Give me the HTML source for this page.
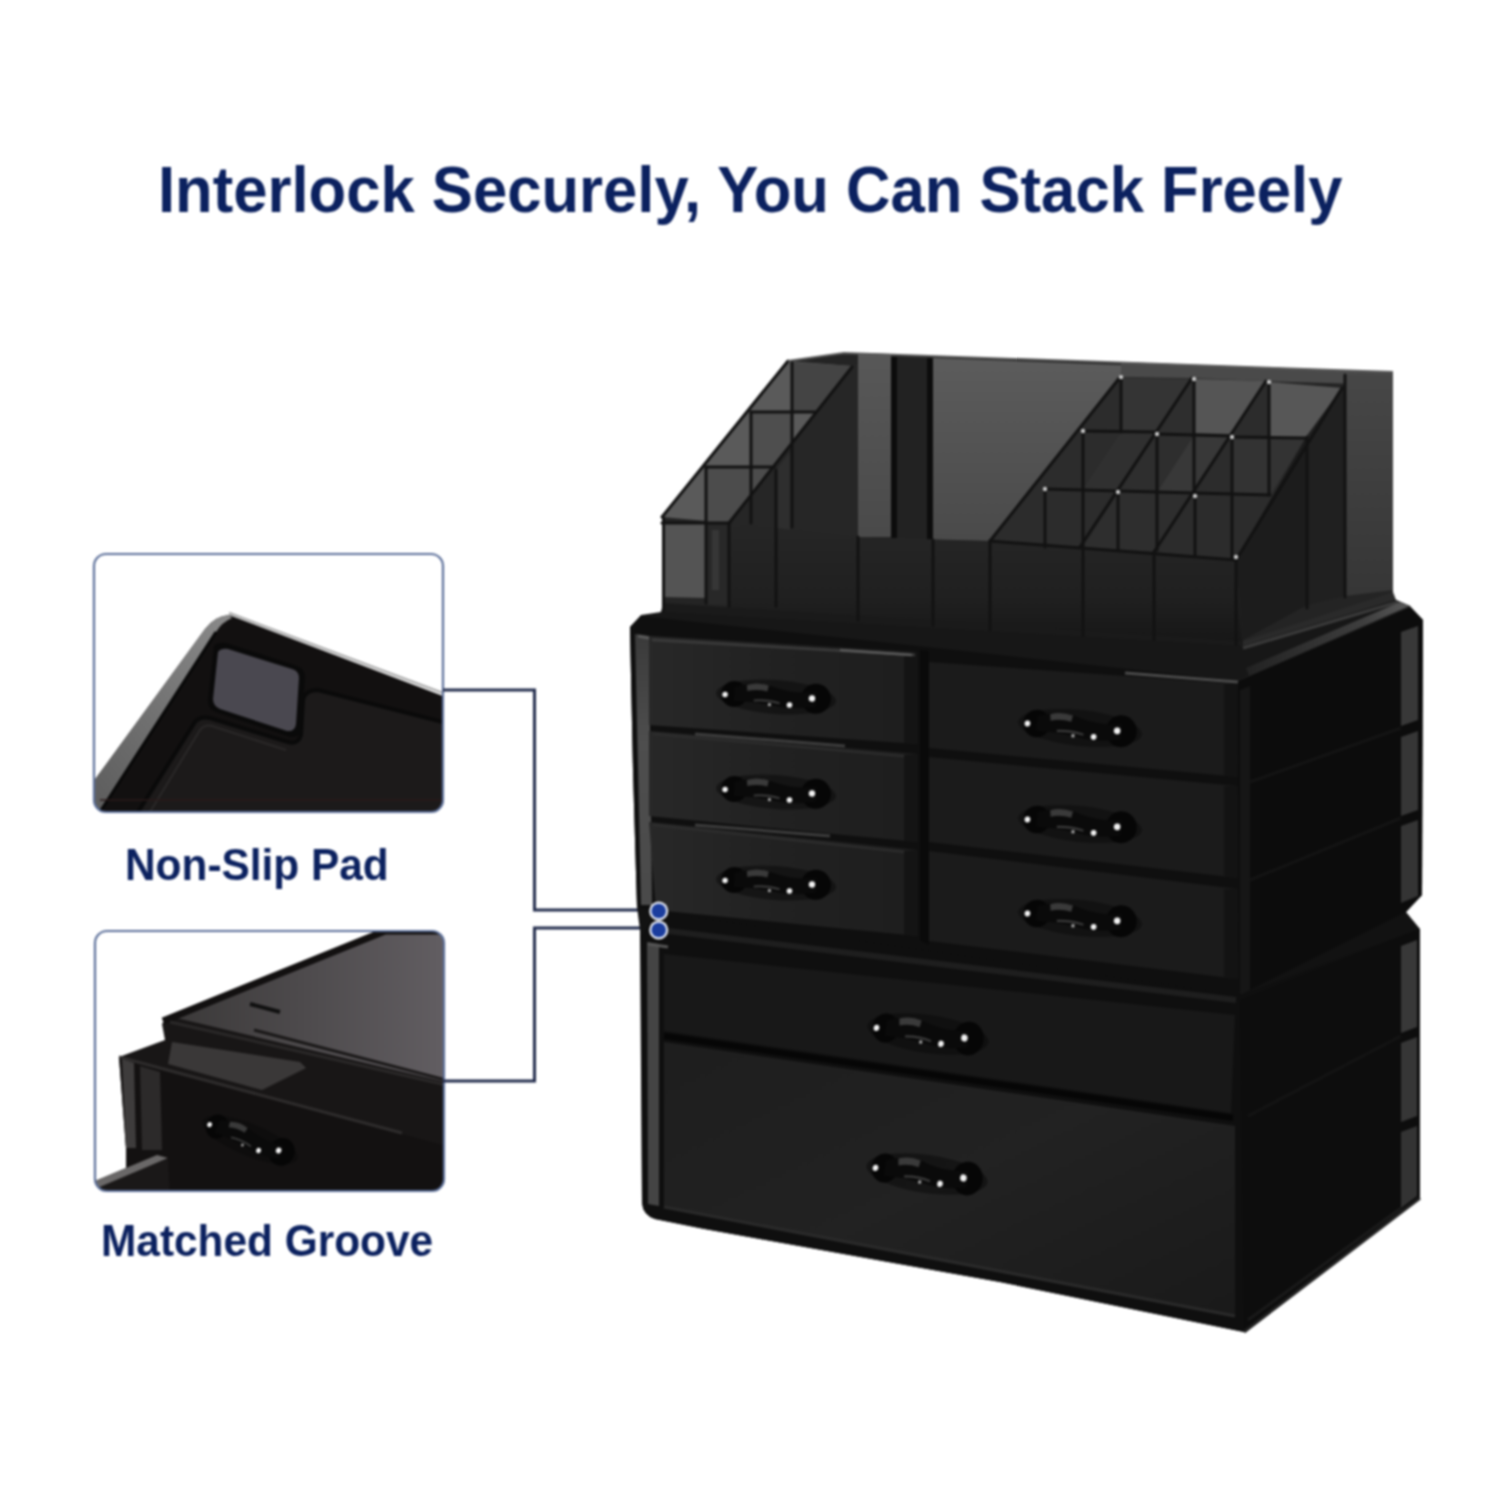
<!DOCTYPE html>
<html><head><meta charset="utf-8"><title>Interlock Securely, You Can Stack Freely</title>
<style>
html,body{margin:0;padding:0;background:#fff;}
body{width:1500px;height:1500px;position:relative;overflow:hidden;font-family:"Liberation Sans",sans-serif;}
.t{position:absolute;white-space:nowrap;font-weight:bold;color:#0b215f;line-height:1;}
#title{left:158px;top:159px;font-size:61.6px;transform:scaleY(1.045);transform-origin:0 30px;}
#lab1{left:125px;top:844px;font-size:42.4px;transform:scaleY(1.04);transform-origin:0 20px;}
#lab2{left:101px;top:1220px;font-size:42.4px;transform:scaleY(1.04);transform-origin:0 20px;}
svg{position:absolute;left:0;top:0;}
#root{position:absolute;left:0;top:0;width:1500px;height:1500px;filter:blur(1px);}
</style></head><body>
<div id="root">
<svg width="1500" height="1500" viewBox="0 0 1500 1500">
<defs>
<clipPath id="c1"><rect x="94" y="554" width="349" height="258" rx="12"/></clipPath>
<clipPath id="c2"><rect x="95" y="931" width="349" height="260" rx="12"/></clipPath>
<linearGradient id="gTop2" x1="0" y1="0" x2="1" y2="0"><stop offset="0" stop-color="#3a3838"/><stop offset="1" stop-color="#625e62"/></linearGradient>
<linearGradient id="gBev" x1="0" y1="1" x2="1" y2="0"><stop offset="0" stop-color="#5a5a5a"/><stop offset="1" stop-color="#8a8a8a"/></linearGradient>
</defs>
<g clip-path="url(#c1)">
<path d="M80,800 L205,629 Q215,616 229,615 L443,696 L443,815 L80,815 Z" fill="#121010"/>
<path d="M80,800 L205,629 Q215,616 229,615 L232,618 Q222,622 216,632 L100,812 L80,812 Z" fill="url(#gBev)"/>
<path d="M229,613 L443,693" stroke="#b0b0b0" stroke-width="2.5" fill="none"/>
<path d="M100,812 L216,632" stroke="#080808" stroke-width="3" fill="none"/>
<path d="M138,812 L195,722 Q200,716 210,718 L288,742 Q298,745 301,735 L303,700 Q305,690 318,690 L443,722 L443,812 Z" fill="#1c1a1a"/>
<path d="M138,812 L195,722 Q200,716 210,718 L288,742 Q298,745 301,735 L303,700 Q305,690 318,690 L443,722" stroke="#0a0a0a" stroke-width="4" fill="none"/>
<path d="M150,812 L200,730 Q205,724 212,726 L286,750" stroke="#2a2828" stroke-width="2" fill="none"/>
<path d="M214,646 Q218,642 226,643 L297,666 Q305,669 305,677 L301,729 Q300,738 290,737 L216,712 Q208,709 208,700 Z" fill="#0a0a0a"/>
<path d="M218,652 Q221,648 228,649 L292,669 Q299,671 299,678 L296,724 Q295,732 287,731 L220,709 Q213,706 213,699 Z" fill="#4a4850"/>
<path d="M100,800 L443,800" stroke="#2a1a1a" stroke-width="1.5"/>
</g>
<rect x="94" y="554" width="349" height="258" rx="12" fill="none" stroke="#5d709a" stroke-width="2.2"/>
<g clip-path="url(#c2)">
<path d="M168,1016 L385,933 L446,933 L446,1200 L90,1200 L90,1183 L157,1155 L126,1148 L119,1057 L165,1040 L162,1024 Z" fill="#181616"/>
<path d="M168,1016 L385,933 L446,933 L446,1082 Z" fill="url(#gTop2)"/>
<path d="M163,1021 L385,931 L446,931" stroke="#121010" stroke-width="7" fill="none"/>
<path d="M250,1004 L280,1012" stroke="#101010" stroke-width="4"/>
<path d="M254,1030 L446,1080" stroke="#1a1818" stroke-width="3"/>
<path d="M172,1042 L300,1062 L306,1068 L262,1090 L168,1064 Z" fill="#3a3838"/>
<path d="M170,1022 L446,1085" stroke="#2a2828" stroke-width="3"/>
<path d="M119,1057 L402,1134 L446,1146 L446,1200 L126,1200 L126,1148 Z" fill="#131111"/>
<path d="M119,1057 L402,1133" stroke="#2e2c2c" stroke-width="3"/>
<path d="M122,1059 L134,1063 L136,1148 L126,1148 Z" fill="#3e3c3c"/>
<path d="M140,1066 L160,1072 L162,1150 L142,1150 Z" fill="#2c2a2a"/>
<path d="M90,1183 L157,1155 L168,1158 L100,1190 Z" fill="#6a6868"/>
<path d="M90,1191 L168,1158 L170,1200 L90,1200 Z" fill="#1a1818"/>
</g>
<g transform="translate(250,1140) rotate(22) scale(0.847,0.938)"><ellipse cx="0" cy="0" rx="60" ry="17" fill="#0b0b0b" opacity="0.55"/><circle cx="-42" cy="0" r="13" fill="#060606"/><circle cx="40" cy="-1" r="15" fill="#060606"/><path d="M-42,-7 Q-20,-16 0,-9 Q20,-4 40,-8 L40,7 Q18,12 0,9 Q-20,6 -42,7 Z" fill="#0a0a0a"/><path d="M-30,-10 Q-20,-14 -8,-11 L-9,-5 Q-20,-7 -29,-4 Z" fill="#5a5a5a" opacity="0.6"/><path d="M-22,5 Q-8,3 4,6" stroke="#3a3a3a" stroke-width="2" fill="none"/><circle cx="-51" cy="1" r="2.8" fill="#f2f2f2"/><circle cx="14" cy="7" r="2.8" fill="#f2f2f2"/><circle cx="36" cy="-1" r="3.2" fill="#f2f2f2"/><circle cx="-6" cy="8" r="1.6" fill="#aaa"/></g>
<rect x="95" y="931" width="349" height="260" rx="12" fill="none" stroke="#5d709a" stroke-width="2.2"/>
<path d="M443,690 L534.5,690 L534.5,910 L652,910" stroke="#222c4c" stroke-width="3" fill="none"/>
<path d="M443,1081 L534.5,1081 L534.5,928 L652,928" stroke="#222c4c" stroke-width="3" fill="none"/>
<defs>
<linearGradient id="gLow" x1="0" y1="0" x2="0" y2="1"><stop offset="0" stop-color="#262626"/><stop offset="0.6" stop-color="#202020"/><stop offset="1" stop-color="#161616"/></linearGradient><linearGradient id="gBev2" x1="0" y1="0" x2="1" y2="0"><stop offset="0" stop-color="#222"/><stop offset="0.7" stop-color="#3e3e3e"/><stop offset="1" stop-color="#5a5a5a"/></linearGradient>
<linearGradient id="gBig" x1="0" y1="0" x2="0" y2="1"><stop offset="0" stop-color="#5c5c5c"/><stop offset="1" stop-color="#4a4a4a"/></linearGradient><linearGradient id="gStrip" x1="0" y1="0" x2="0" y2="1"><stop offset="0" stop-color="#585858"/><stop offset="1" stop-color="#4a4a4a"/></linearGradient>
<linearGradient id="gD2" x1="0" y1="0" x2="1" y2="1"><stop offset="0" stop-color="#1e1e1e"/><stop offset="0.5" stop-color="#222"/><stop offset="1" stop-color="#1a1a1a"/></linearGradient>
<linearGradient id="gEnd" x1="0" y1="0" x2="0" y2="1"><stop offset="0" stop-color="#474747"/><stop offset="1" stop-color="#363636"/></linearGradient>
<linearGradient id="gLS" x1="0" y1="0" x2="0" y2="1"><stop offset="0" stop-color="#3a3a3a"/><stop offset="0.4" stop-color="#4e4e4e"/><stop offset="1" stop-color="#4a4a4a"/></linearGradient>
<linearGradient id="gLD" x1="0" y1="0" x2="1" y2="0"><stop offset="0" stop-color="#282828"/><stop offset="0.5" stop-color="#212121"/><stop offset="1" stop-color="#1e1e1e"/></linearGradient>
</defs>
<path d="M662,517 L788,361 L844,353 L1393,372 L1393,596 L1396,600 L1410,606 L1423,620 L1422,895 L1406,912 L1420,929 L1420,1198 L1244,1332 L1000,1282 L880,1260.5 L702,1228.5 L655,1219 Q643,1215 642,1203 L640,937 L640,930 L637,907 L633,770 L630,627 L641,615 L658,616 L662,610 Z" fill="#121212"/>
<path d="M662,517 L788,361 L844,353 L1393,372 L1393,596 L1243,646 L662,612 Z" fill="#242424"/>
<path d="M662,517 L788,361 L852,366 L729,523 Z" fill="#5a5a5a"/>
<path d="M792,362 L852,366 L815,412 L792,412 Z" fill="#444"/>
<path d="M751,412 L792,412 L792,467 L774,467 L751,467 Z" fill="#4e4e4e"/>
<path d="M706,467 L774,467 L729,523 L706,523 Z" fill="#4c4c4c"/>
<path d="M729,523 L852,366 L858,364 L858,537 Z" fill="#262626"/>
<path d="M776,470 L790,452 L790,530 L776,528 Z" fill="#2e2e2e"/>
<path d="M663,523 L706,523 L706,598 L663,597 Z" fill="#545454"/>
<path d="M666,606 L684,607 L684,612 L666,611 Z" fill="#4a4a4a"/>
<path d="M706,523 L729,523 L729,605 L706,604 Z" fill="#282828"/>
<path d="M712,530 L719,530 L719,590 L712,590 Z" fill="#363636"/>
<path d="M858,353 L891,354 L891,537 L858,537 Z" fill="url(#gStrip)"/>
<path d="M891,357 L933,358 L933,540 L891,538 Z" fill="#222"/><path d="M891,357 L897,357 L897,538 L891,538 Z" fill="#0c0c0c"/><path d="M927,358 L933,358 L933,540 L927,540 Z" fill="#0c0c0c"/>
<path d="M933,358 L1121,365 L1121,376 L990,541 L933,540 Z" fill="url(#gBig)"/>
<path d="M1121,362 L1393,372 L1393,385 L1121,377 Z" fill="#4a4a4a"/>
<path d="M1121,377 L1192,378 L1083,547 L990,541 Z" fill="#2c2c2c"/>
<path d="M1192,378 L1266,381 L1154,552 L1083,547 Z" fill="#2e2e2e"/>
<path d="M1266,381 L1342,388 L1236,560 L1154,552 Z" fill="#2c2c2c"/>
<path d="M1194,379 L1266,381 L1231,434 L1194,433 Z" fill="#555"/>
<path d="M1269,382 L1342,388 L1306,437 L1269,437 Z" fill="#575757"/>
<path d="M1121,378 L1190,379 L1155,432 L1121,431 Z" fill="#343434"/>
<path d="M1121,432 L1155,432 L1118,490 L1083,489 Z" fill="#303030"/>
<path d="M1195,434 L1231,436 L1195,492 L1158,491 Z" fill="#383838"/>
<path d="M1232,437 L1306,438 L1270,495 L1232,495 Z" fill="#333"/>
<path d="M1306,437 L1342,388 L1345,386 L1345,596 L1307,605 Z" fill="#202020"/>
<path d="M1345,374 L1393,372 L1393,590 L1345,596 Z" fill="url(#gEnd)"/>
<path d="M1236,560 L1306,437 L1307,605 L1243,640 Z" fill="#1c1c1c"/>
<path d="M729,523 L858,537 L990,541 L1083,547 L1154,552 L1236,560 L1243,646 L729,608 Z" fill="url(#gLow)"/>
<path d="M663,603 L1243,641 L1243,648 L661,612 Z" fill="#1a1a1a"/>
<path d="M1243,641 L1393,592 L1396,600 L1243,648 Z" fill="#2a2a2a"/>
<g stroke="#121212" stroke-width="3" fill="none" stroke-linecap="round">
<path d="M662,517 L788,361"/>
<path d="M663.5,518 L663.5,610"/>
<path d="M729,523 L852,367"/>
<path d="M662,523 L729,523"/><path d="M706,467 L774,467"/><path d="M751,412 L815,412"/>
<path d="M706,467 L706,603"/><path d="M751,412 L751,523"/><path d="M792,362 L792,527"/><path d="M729,523 L729,606"/><path d="M776,470 L776,606"/>
<path d="M990,541 L1121,376"/>
<path d="M1080,547 L1192,378"/>
<path d="M1154,552 L1266,381"/>
<path d="M1236,560 L1342,388"/>
<path d="M1121,376 L1121,432"/><path d="M1083,431 L1083,547"/><path d="M1045,489 L1045,547"/>
<path d="M1194,379 L1194,492"/><path d="M1157,434 L1157,550"/><path d="M1118,492 L1118,549"/>
<path d="M1269,381 L1269,495"/><path d="M1232,437 L1232,558"/><path d="M1195,496 L1195,555"/>
<path d="M1083,431 L1155,432"/><path d="M1158,434 L1231,436"/><path d="M1232,437 L1306,438"/>
<path d="M1045,489 L1270,495"/>
<path d="M990,541 L1236,560"/>
<path d="M1083,547 L1083,636"/><path d="M1154,552 L1154,640"/><path d="M990,541 L990,630"/><path d="M1236,560 L1236,645"/>
<path d="M933,540 L933,625"/><path d="M858,537 L858,620"/>
<path d="M1307,437 L1307,608"/><path d="M1345,375 L1345,597"/>
</g>
<path d="M788,361 L844,353 L1393,372" stroke="#5a5a5a" stroke-width="2" fill="none"/>
<circle cx="1121" cy="377" r="2.2" fill="#c8c8c8"/>
<circle cx="1194" cy="379" r="2.2" fill="#c8c8c8"/>
<circle cx="1269" cy="382" r="2.2" fill="#c8c8c8"/>
<circle cx="1083" cy="431" r="2.2" fill="#c8c8c8"/>
<circle cx="1157" cy="434" r="2.2" fill="#c8c8c8"/>
<circle cx="1232" cy="437" r="2.2" fill="#c8c8c8"/>
<circle cx="1045" cy="489" r="2.2" fill="#c8c8c8"/>
<circle cx="1118" cy="492" r="2.2" fill="#c8c8c8"/>
<circle cx="1195" cy="496" r="2.2" fill="#c8c8c8"/>
<circle cx="1236" cy="557" r="2.2" fill="#c8c8c8"/>
<path d="M641,615 L661,612 L1243,646 L1396,600 L1410,606 L1238,681 L641,618 Z" fill="#171717"/>
<path d="M1243,648 L1398,602" stroke="#3a3a3a" stroke-width="3"/>
<path d="M1246,668 L1400,602 L1410,606 L1412,613 L1250,678 Z" fill="url(#gBev2)"/>
<path d="M1238,682 L1410,607" stroke="#2a2a2a" stroke-width="3"/>
<path d="M630,627 L641,616 L1238,681 L1240,995 L656,912 L637,907 L633,770 Z" fill="#0f0f0f"/>
<path d="M635,634 L649,636 L652,905 L641,905 Z" fill="url(#gLS)"/>
<path d="M638,636 L660,640" stroke="#5a5a5a" stroke-width="3"/>
<path d="M649,636 L918,652 L918,744 L649,725 Z" fill="url(#gLD)"/>
<path d="M653,639 L914,655" stroke="#2e2e2e" stroke-width="2"/>
<path d="M904,653 L918,652 L918,744 L904,743 Z" fill="#141414"/>
<path d="M649,731 L918,754 L918,842 L649,816 Z" fill="url(#gLD)"/>
<path d="M653,734 L914,757" stroke="#2e2e2e" stroke-width="2"/>
<path d="M904,755 L918,754 L918,842 L904,841 Z" fill="#141414"/>
<path d="M649,822 L918,850 L918,936 L656,910 Z" fill="url(#gLD)"/>
<path d="M653,825 L914,853" stroke="#2e2e2e" stroke-width="2"/>
<path d="M904,851 L918,850 L918,936 L904,935 Z" fill="#141414"/>
<path d="M652,640 L915,655" stroke="#3a3a3a" stroke-width="2.5"/>
<path d="M840,650 L912,655" stroke="#5a5a5a" stroke-width="2.5"/>
<path d="M695,734 L845,746" stroke="#3c3c3c" stroke-width="3"/>
<path d="M695,825 L830,836" stroke="#3c3c3c" stroke-width="3"/>
<path d="M920,650 L929,651 L929,945 L920,940 Z" fill="#0a0a0a"/>
<path d="M929,662 L1238,684 L1238,777 L929,748 Z" fill="#1b1b1b"/>
<path d="M1224,684 L1238,684 L1238,777 L1224,776 Z" fill="#131313"/>
<path d="M929,757 L1238,786 L1238,878 L929,842 Z" fill="#1b1b1b"/>
<path d="M1224,786 L1238,786 L1238,878 L1224,877 Z" fill="#131313"/>
<path d="M929,851 L1238,889 L1238,979 L929,941 Z" fill="#1b1b1b"/>
<path d="M1224,889 L1238,889 L1238,979 L1224,978 Z" fill="#131313"/>
<path d="M1125,673 L1238,682" stroke="#4a4a4a" stroke-width="3"/>
<path d="M1238,681 L1410,607 L1423,620 L1422,895 L1406,912 L1240,995 Z" fill="#0c0c0c"/>
<path d="M1401,632 L1418,626 L1418,720 L1401,726 Z" fill="#383838"/>
<path d="M1401,737 L1418,731 L1418,810 L1401,816 Z" fill="#363636"/>
<path d="M1401,826 L1418,820 L1418,896 L1401,903 Z" fill="#343434"/>
<path d="M1250,782 L1401,728" stroke="#141414" stroke-width="3"/>
<path d="M1250,880 L1401,818" stroke="#141414" stroke-width="3"/>
<path d="M1240,690 L1250,686 L1250,990 L1240,995 Z" fill="#161616"/>
<g transform="translate(776,697) rotate(4) scale(1.000,1.000)"><ellipse cx="0" cy="0" rx="60" ry="17" fill="#0b0b0b" opacity="0.55"/><circle cx="-42" cy="0" r="13" fill="#060606"/><circle cx="40" cy="-1" r="15" fill="#060606"/><path d="M-42,-7 Q-20,-16 0,-9 Q20,-4 40,-8 L40,7 Q18,12 0,9 Q-20,6 -42,7 Z" fill="#0a0a0a"/><path d="M-30,-10 Q-20,-14 -8,-11 L-9,-5 Q-20,-7 -29,-4 Z" fill="#5a5a5a" opacity="0.6"/><path d="M-22,5 Q-8,3 4,6" stroke="#3a3a3a" stroke-width="2" fill="none"/><circle cx="-51" cy="1" r="2.8" fill="#f2f2f2"/><circle cx="14" cy="7" r="2.8" fill="#f2f2f2"/><circle cx="36" cy="-1" r="3.2" fill="#f2f2f2"/><circle cx="-6" cy="8" r="1.6" fill="#aaa"/></g>
<g transform="translate(776,792) rotate(4) scale(1.000,1.000)"><ellipse cx="0" cy="0" rx="60" ry="17" fill="#0b0b0b" opacity="0.55"/><circle cx="-42" cy="0" r="13" fill="#060606"/><circle cx="40" cy="-1" r="15" fill="#060606"/><path d="M-42,-7 Q-20,-16 0,-9 Q20,-4 40,-8 L40,7 Q18,12 0,9 Q-20,6 -42,7 Z" fill="#0a0a0a"/><path d="M-30,-10 Q-20,-14 -8,-11 L-9,-5 Q-20,-7 -29,-4 Z" fill="#5a5a5a" opacity="0.6"/><path d="M-22,5 Q-8,3 4,6" stroke="#3a3a3a" stroke-width="2" fill="none"/><circle cx="-51" cy="1" r="2.8" fill="#f2f2f2"/><circle cx="14" cy="7" r="2.8" fill="#f2f2f2"/><circle cx="36" cy="-1" r="3.2" fill="#f2f2f2"/><circle cx="-6" cy="8" r="1.6" fill="#aaa"/></g>
<g transform="translate(776,883) rotate(4) scale(1.000,1.000)"><ellipse cx="0" cy="0" rx="60" ry="17" fill="#0b0b0b" opacity="0.55"/><circle cx="-42" cy="0" r="13" fill="#060606"/><circle cx="40" cy="-1" r="15" fill="#060606"/><path d="M-42,-7 Q-20,-16 0,-9 Q20,-4 40,-8 L40,7 Q18,12 0,9 Q-20,6 -42,7 Z" fill="#0a0a0a"/><path d="M-30,-10 Q-20,-14 -8,-11 L-9,-5 Q-20,-7 -29,-4 Z" fill="#5a5a5a" opacity="0.6"/><path d="M-22,5 Q-8,3 4,6" stroke="#3a3a3a" stroke-width="2" fill="none"/><circle cx="-51" cy="1" r="2.8" fill="#f2f2f2"/><circle cx="14" cy="7" r="2.8" fill="#f2f2f2"/><circle cx="36" cy="-1" r="3.2" fill="#f2f2f2"/><circle cx="-6" cy="8" r="1.6" fill="#aaa"/></g>
<g transform="translate(1080,728) rotate(6) scale(1.034,1.062)"><ellipse cx="0" cy="0" rx="60" ry="17" fill="#0b0b0b" opacity="0.55"/><circle cx="-42" cy="0" r="13" fill="#060606"/><circle cx="40" cy="-1" r="15" fill="#060606"/><path d="M-42,-7 Q-20,-16 0,-9 Q20,-4 40,-8 L40,7 Q18,12 0,9 Q-20,6 -42,7 Z" fill="#0a0a0a"/><path d="M-30,-10 Q-20,-14 -8,-11 L-9,-5 Q-20,-7 -29,-4 Z" fill="#5a5a5a" opacity="0.6"/><path d="M-22,5 Q-8,3 4,6" stroke="#3a3a3a" stroke-width="2" fill="none"/><circle cx="-51" cy="1" r="2.8" fill="#f2f2f2"/><circle cx="14" cy="7" r="2.8" fill="#f2f2f2"/><circle cx="36" cy="-1" r="3.2" fill="#f2f2f2"/><circle cx="-6" cy="8" r="1.6" fill="#aaa"/></g>
<g transform="translate(1080,824) rotate(6) scale(1.034,1.062)"><ellipse cx="0" cy="0" rx="60" ry="17" fill="#0b0b0b" opacity="0.55"/><circle cx="-42" cy="0" r="13" fill="#060606"/><circle cx="40" cy="-1" r="15" fill="#060606"/><path d="M-42,-7 Q-20,-16 0,-9 Q20,-4 40,-8 L40,7 Q18,12 0,9 Q-20,6 -42,7 Z" fill="#0a0a0a"/><path d="M-30,-10 Q-20,-14 -8,-11 L-9,-5 Q-20,-7 -29,-4 Z" fill="#5a5a5a" opacity="0.6"/><path d="M-22,5 Q-8,3 4,6" stroke="#3a3a3a" stroke-width="2" fill="none"/><circle cx="-51" cy="1" r="2.8" fill="#f2f2f2"/><circle cx="14" cy="7" r="2.8" fill="#f2f2f2"/><circle cx="36" cy="-1" r="3.2" fill="#f2f2f2"/><circle cx="-6" cy="8" r="1.6" fill="#aaa"/></g>
<g transform="translate(1080,918) rotate(6) scale(1.034,1.062)"><ellipse cx="0" cy="0" rx="60" ry="17" fill="#0b0b0b" opacity="0.55"/><circle cx="-42" cy="0" r="13" fill="#060606"/><circle cx="40" cy="-1" r="15" fill="#060606"/><path d="M-42,-7 Q-20,-16 0,-9 Q20,-4 40,-8 L40,7 Q18,12 0,9 Q-20,6 -42,7 Z" fill="#0a0a0a"/><path d="M-30,-10 Q-20,-14 -8,-11 L-9,-5 Q-20,-7 -29,-4 Z" fill="#5a5a5a" opacity="0.6"/><path d="M-22,5 Q-8,3 4,6" stroke="#3a3a3a" stroke-width="2" fill="none"/><circle cx="-51" cy="1" r="2.8" fill="#f2f2f2"/><circle cx="14" cy="7" r="2.8" fill="#f2f2f2"/><circle cx="36" cy="-1" r="3.2" fill="#f2f2f2"/><circle cx="-6" cy="8" r="1.6" fill="#aaa"/></g>
<path d="M641,937 L656,912 L1240,995 L1420,929 L1420,1198 L1244,1332 L1000,1282 L880,1260.5 L702,1228.5 L655,1219 Q643,1215 642,1203 Z" fill="#0f0f0f"/>
<path d="M660,930 L1236,1000" stroke="#1e1e1e" stroke-width="6"/>
<path d="M647,942 L659,944 L659,1206 L648,1204 Z" fill="#444"/>
<path d="M648,944 L668,947" stroke="#555" stroke-width="3"/>
<path d="M664,954 L1235,1015 L1231,1113 L664,1031 Z" fill="#181818"/>
<path d="M664,1042 L1235,1126 L1235,1316 L664,1207 Z" fill="url(#gD2)"/>
<path d="M664,1036 L1233,1118" stroke="#060606" stroke-width="6"/>
<path d="M664,1207 L1235,1316" stroke="#2a2a2a" stroke-width="3"/>
<path d="M1240,1000 L1420,929 L1420,1198 L1244,1332 Z" fill="#0d0d0d"/>
<path d="M1401,946 L1417,940 L1417,1027 L1401,1033 Z" fill="#383838"/>
<path d="M1401,1043 L1417,1037 L1417,1116 L1401,1122 Z" fill="#363636"/>
<path d="M1401,1132 L1417,1126 L1417,1196 L1401,1208 Z" fill="#333333"/>
<path d="M1248,1116 L1401,1036" stroke="#141414" stroke-width="3"/>
<path d="M1248,1320 L1401,1208" stroke="#1a1a1a" stroke-width="3"/>
<path d="M1244,1332 L1420,1198" stroke="#222" stroke-width="3"/>
<g transform="translate(928,1034) rotate(8) scale(1.017,1.125)"><ellipse cx="0" cy="0" rx="60" ry="17" fill="#0b0b0b" opacity="0.55"/><circle cx="-42" cy="0" r="13" fill="#060606"/><circle cx="40" cy="-1" r="15" fill="#060606"/><path d="M-42,-7 Q-20,-16 0,-9 Q20,-4 40,-8 L40,7 Q18,12 0,9 Q-20,6 -42,7 Z" fill="#0a0a0a"/><path d="M-30,-10 Q-20,-14 -8,-11 L-9,-5 Q-20,-7 -29,-4 Z" fill="#5a5a5a" opacity="0.6"/><path d="M-22,5 Q-8,3 4,6" stroke="#3a3a3a" stroke-width="2" fill="none"/><circle cx="-51" cy="1" r="2.8" fill="#f2f2f2"/><circle cx="14" cy="7" r="2.8" fill="#f2f2f2"/><circle cx="36" cy="-1" r="3.2" fill="#f2f2f2"/><circle cx="-6" cy="8" r="1.6" fill="#aaa"/></g>
<g transform="translate(927,1174) rotate(8) scale(1.017,1.125)"><ellipse cx="0" cy="0" rx="60" ry="17" fill="#0b0b0b" opacity="0.55"/><circle cx="-42" cy="0" r="13" fill="#060606"/><circle cx="40" cy="-1" r="15" fill="#060606"/><path d="M-42,-7 Q-20,-16 0,-9 Q20,-4 40,-8 L40,7 Q18,12 0,9 Q-20,6 -42,7 Z" fill="#0a0a0a"/><path d="M-30,-10 Q-20,-14 -8,-11 L-9,-5 Q-20,-7 -29,-4 Z" fill="#5a5a5a" opacity="0.6"/><path d="M-22,5 Q-8,3 4,6" stroke="#3a3a3a" stroke-width="2" fill="none"/><circle cx="-51" cy="1" r="2.8" fill="#f2f2f2"/><circle cx="14" cy="7" r="2.8" fill="#f2f2f2"/><circle cx="36" cy="-1" r="3.2" fill="#f2f2f2"/><circle cx="-6" cy="8" r="1.6" fill="#aaa"/></g>
<circle cx="658.7" cy="911" r="9.5" fill="#e8ecf6"/><circle cx="658.7" cy="911" r="7.3" fill="#1b3d9e"/>
<circle cx="658.7" cy="930" r="9.5" fill="#e8ecf6"/><circle cx="658.7" cy="930" r="7.3" fill="#1b3d9e"/>
</svg>
<div class="t" id="title">Interlock Securely, You Can Stack Freely</div>
<div class="t" id="lab1">Non-Slip Pad</div>
<div class="t" id="lab2">Matched Groove</div>
</div>
</body></html>
